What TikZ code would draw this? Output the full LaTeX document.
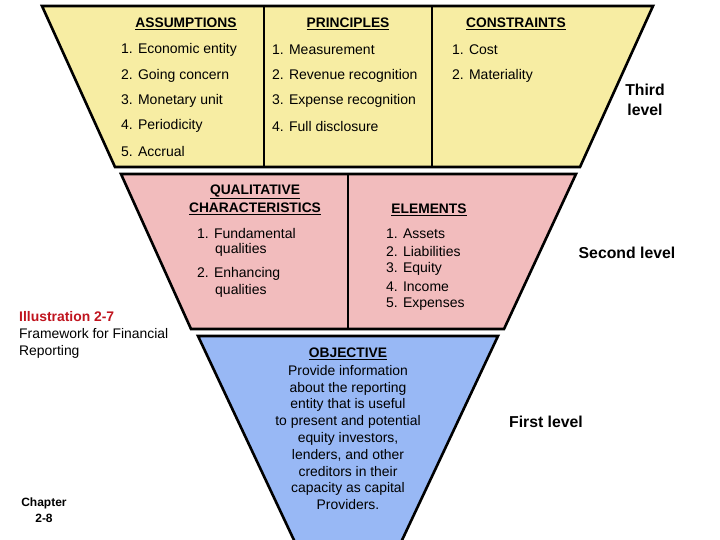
\documentclass[tikz,border=0pt]{standalone}
\usepackage{fontspec}
\setmainfont{Liberation Sans}
\definecolor{yel}{HTML}{F7EDA3}
\definecolor{pnk}{HTML}{F2BCBD}
\definecolor{blu}{HTML}{98B8F5}
\definecolor{redt}{HTML}{C0141E}
\tikzset{
  panel/.style={draw=black,line width=2.6pt,line join=miter},
  divider/.style={draw=black,line width=2pt},
  item/.style={anchor=west,inner sep=0pt,font=\fontsize{14}{16}\selectfont},
  head/.style={anchor=center,inner sep=0pt,font=\fontsize{13.8}{16}\selectfont\bfseries},
  lvl/.style={anchor=center,inner sep=0pt,align=center,font=\fontsize{15.8}{20}\selectfont\bfseries},
  side/.style={anchor=west,inner sep=0pt,align=left,font=\fontsize{13.9}{17.5}\selectfont}
}
\begin{document}
\begin{tikzpicture}[x=1pt,y=-1pt]
\useasboundingbox (0,0) rectangle (720,540);
\clip (0,0) rectangle (720,540);
% third level
\path[panel,fill=yel] (42,6) -- (653,6) -- (580,167) -- (115,167) -- cycle;
\draw[divider] (264,6) -- (264,167);
\draw[divider] (432,6) -- (432,167);
% second level
\path[panel,fill=pnk] (121,174) -- (576,174) -- (504,329) -- (191,329) -- cycle;
\draw[divider] (348,174) -- (348,329);
% first level
\path[panel,fill=blu] (198,336) -- (498,336) -- (348,655) -- cycle;

% yellow texts
\node[head] (hA) at (186,24) {\underline{ASSUMPTIONS}};
\node[head] (hP) at (348,24) {\underline{PRINCIPLES}};
\node[head] (hC) at (516,24) {\underline{CONSTRAINTS}};
\node[item] (a1) at (121,50) {1. Economic entity};
\node[item] (a2) at (121,76) {2. Going concern};
\node[item] (a3) at (121,101) {3. Monetary unit};
\node[item] (a4) at (121,126) {4. Periodicity};
\node[item] (a5) at (121,151) {5. Accrual};
\node[item] (p1) at (272,50) {1. Measurement};
\node[item] (p2) at (272,76) {2. Revenue recognition};
\node[item] (p3) at (272,101) {3. Expense recognition};
\node[item] (p4) at (272,126) {4. Full disclosure};
\node[item] (c1) at (452,50) {1. Cost};
\node[item] (c2) at (452,76) {2. Materiality};
\node[lvl] (L3) at (645,100) {Third\\level};

% pink texts
\node[head] (hQ1) at (255,192) {\underline{QUALITATIVE}};
\node[head] (hQ2) at (255,209) {\underline{CHARACTERISTICS}};
\node[head] (hE) at (429,210) {\underline{ELEMENTS}};
\node[item] (q1) at (197,233) {1. Fundamental};
\node[item] (q1b) at (215,250) {qualities};
\node[item] (q2) at (197,274) {2. Enhancing};
\node[item] (q2b) at (215,291) {qualities};
\node[item] (e1) at (386,234) {1. Assets};
\node[item] (e2) at (386,251) {2. Liabilities};
\node[item] (e3) at (386,269) {3. Equity};
\node[item] (e4) at (386,287) {4. Income};
\node[item] (e5) at (386,304) {5. Expenses};
\node[lvl] (L2) at (627,253) {Second level};

% blue texts
\node[head] (hO) at (348,354) {\underline{OBJECTIVE}};
\node[anchor=north,inner sep=0pt,align=center,font=\fontsize{13.9}{16.8}\selectfont] (obj) at (348,365)
 {Provide information\\about the reporting\\entity that is useful\\to present and potential\\equity investors,\\lenders, and other\\creditors in their\\capacity as capital\\Providers.};
\node[lvl] (L1) at (546,422) {First level};

% side notes
\node[side] (ill) at (19,317) {\textcolor{redt}{\bfseries Illustration 2-7}};
\node[side,anchor=north west] (fw) at (19,328) {Framework for Financial\\Reporting};
\node[anchor=center,inner sep=0pt,align=center,font=\fontsize{12}{16}\selectfont\bfseries] (ch) at (44,510) {Chapter\\2-8};
\end{tikzpicture}
\end{document}
